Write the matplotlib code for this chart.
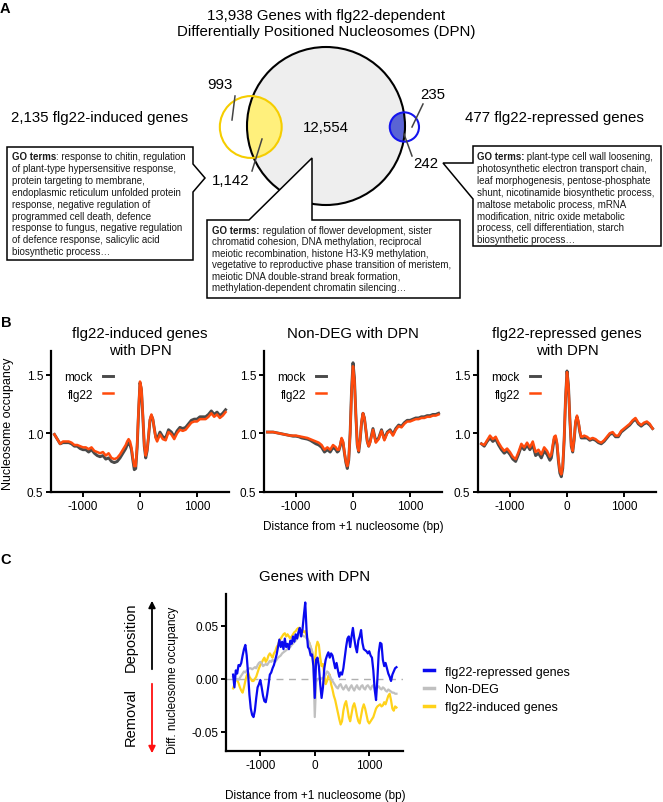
import numpy as np
import matplotlib
matplotlib.use('Agg')
import matplotlib.pyplot as plt
from matplotlib.patches import Circle, Polygon

plt.rcParams['font.family'] = ['Liberation Sans', 'DejaVu Sans']
plt.rcParams['axes.unicode_minus'] = False
NARROW = ['Liberation Sans Narrow', 'Liberation Sans', 'DejaVu Sans']

# ---------------- data ----------------
# Venn (panel A)
n_dpn = 13938
n_induced = 2135
n_repressed = 477
n_induced_only = 993
n_induced_dpn = 1142
n_dpn_only = 12554
n_repressed_only = 235
n_repressed_dpn = 242

# GO term boxes: (bold prefix, rest of first line), following lines
go_induced = [("GO terms", ": response to chitin, regulation"),
              "of plant-type hypersensitive response,",
              "protein targeting to membrane,",
              "endoplasmic reticulum unfolded protein",
              "response, negative regulation of",
              "programmed cell death, defence",
              "response to fungus, negative regulation",
              "of defence response, salicylic acid",
              "biosynthetic process…"]
go_dpn = [("GO terms:", " regulation of flower development, sister"),
          "chromatid cohesion, DNA methylation, reciprocal",
          "meiotic recombination, histone H3-K9 methylation,",
          "vegetative to reproductive phase transition of meristem,",
          "meiotic DNA double-strand break formation,",
          "methylation-dependent chromatin silencing…"]
go_repressed = [("GO terms:", " plant-type cell wall loosening,"),
                "photosynthetic electron transport chain,",
                "leaf morphogenesis, pentose-phosphate",
                "shunt, nicotinamide biosynthetic process,",
                "maltose metabolic process, mRNA",
                "modification, nitric oxide metabolic",
                "process, cell differentiation, starch",
                "biosynthetic process…"]

# Panel B: nucleosome occupancy profiles (bp from +1 nucleosome)
pos_b = np.concatenate([np.arange(-1500, -300, 50), np.arange(-300, 300, 25),
                        np.arange(300, 1501, 50)])
ind_flg22 = [0.99, 0.95, 0.91, 0.93, 0.93, 0.93, 0.92, 0.90, 0.90, 0.89, 0.88, 0.88,
             0.865, 0.88, 0.85, 0.84, 0.83, 0.84, 0.81, 0.83, 0.79, 0.78, 0.79, 0.82,
             0.86, 0.88, 0.90, 0.93, 0.95, 0.93, 0.88, 0.79, 0.72, 0.72, 0.90, 1.20,
             1.44, 1.38, 1.15, 0.90, 0.81, 0.86, 0.98, 1.12, 1.16, 1.12, 1.04, 0.96,
             0.93, 0.99, 0.95, 0.94, 1.01, 0.99, 0.95, 1.00, 1.03, 1.02, 1.03, 1.06, 1.09,
             1.10, 1.10, 1.12, 1.12, 1.12, 1.14, 1.17, 1.14, 1.16, 1.13, 1.15, 1.18]
ind_mock = [0.99, 0.95, 0.91, 0.92, 0.92, 0.92, 0.91, 0.89, 0.89, 0.87, 0.86, 0.86,
            0.84, 0.86, 0.83, 0.81, 0.80, 0.81, 0.78, 0.79, 0.76, 0.75, 0.76, 0.79,
            0.83, 0.85, 0.87, 0.90, 0.92, 0.90, 0.86, 0.77, 0.69, 0.70, 0.88, 1.18,
            1.43, 1.37, 1.14, 0.89, 0.79, 0.85, 0.97, 1.11, 1.15, 1.12, 1.04, 0.97,
            0.95, 1.01, 0.97, 0.96, 1.03, 1.01, 0.97, 1.02, 1.05, 1.04, 1.05, 1.08, 1.11,
            1.12, 1.12, 1.14, 1.14, 1.14, 1.16, 1.19, 1.16, 1.18, 1.15, 1.17, 1.20]
non_flg22 = [1.01, 1.01, 1.01, 1.005, 1.00, 0.995, 0.99, 0.985, 0.98, 0.98, 0.98, 0.975,
             0.97, 0.965, 0.96, 0.95, 0.94, 0.93, 0.92, 0.90, 0.86, 0.88, 0.86, 0.90,
             0.88, 0.86, 0.86, 0.90, 0.96, 0.93, 0.84, 0.76, 0.72, 0.78, 1.00, 1.35,
             1.57, 1.45, 1.15, 0.90, 0.85, 0.95, 1.10, 1.17, 1.13, 1.03, 0.93, 0.89,
             0.92, 1.03, 0.92, 0.95, 1.02, 0.94, 1.00, 1.02, 0.98, 1.03, 1.06, 1.05, 1.08,
             1.10, 1.10, 1.11, 1.12, 1.12, 1.13, 1.13, 1.14, 1.14, 1.15, 1.15, 1.16]
non_mock = [1.01, 1.01, 1.01, 1.005, 1.00, 0.995, 0.99, 0.985, 0.98, 0.975, 0.975, 0.97,
            0.96, 0.955, 0.95, 0.94, 0.925, 0.91, 0.90, 0.88, 0.84, 0.86, 0.84, 0.88,
            0.86, 0.84, 0.85, 0.89, 0.95, 0.92, 0.83, 0.75, 0.70, 0.77, 1.00, 1.37,
            1.60, 1.47, 1.16, 0.90, 0.84, 0.94, 1.09, 1.17, 1.13, 1.03, 0.93, 0.89,
            0.93, 1.04, 0.93, 0.96, 1.03, 0.95, 1.01, 1.03, 0.99, 1.04, 1.07, 1.06, 1.09,
            1.11, 1.11, 1.12, 1.13, 1.13, 1.14, 1.14, 1.15, 1.15, 1.16, 1.16, 1.17]
rep_flg22 = [0.91, 0.90, 0.94, 0.98, 0.95, 0.97, 0.92, 0.88, 0.85, 0.87, 0.84, 0.80,
             0.78, 0.84, 0.91, 0.88, 0.92, 0.88, 0.93, 0.84, 0.86, 0.82, 0.88, 0.85,
             0.80, 0.82, 0.90, 0.97, 0.98, 0.92, 0.78, 0.68, 0.65, 0.72, 0.95, 1.30,
             1.52, 1.40, 1.12, 0.90, 0.85, 0.95, 1.10, 1.15, 1.10, 1.02, 0.97, 0.97,
             0.98, 0.97, 0.95, 0.96, 0.95, 0.93, 0.92, 0.94, 0.97, 1.00, 1.01, 0.98, 0.98,
             1.02, 1.04, 1.06, 1.08, 1.11, 1.13, 1.09, 1.07, 1.09, 1.10, 1.08, 1.04]
rep_mock = [0.91, 0.89, 0.93, 0.96, 0.93, 0.95, 0.90, 0.86, 0.83, 0.85, 0.82, 0.78,
            0.76, 0.82, 0.89, 0.86, 0.90, 0.86, 0.90, 0.81, 0.83, 0.79, 0.85, 0.82,
            0.77, 0.79, 0.87, 0.95, 0.96, 0.90, 0.76, 0.66, 0.63, 0.70, 0.94, 1.30,
            1.53, 1.41, 1.12, 0.89, 0.84, 0.94, 1.09, 1.14, 1.09, 1.01, 0.96, 0.96,
            0.96, 0.96, 0.94, 0.95, 0.94, 0.92, 0.91, 0.93, 0.96, 0.99, 1.00, 0.97, 0.97,
            1.01, 1.03, 1.05, 1.07, 1.10, 1.12, 1.08, 1.06, 1.08, 1.09, 1.07, 1.04]
b_titles = ['flg22-induced genes\nwith DPN', 'Non-DEG with DPN',
            'flg22-repressed genes\nwith DPN']

# Panel C: differential occupancy (flg22 - mock)
pos_c = np.arange(-1500, 1501, 25)
diff_repressed = [0.004, -0.008, 0.008, 0.005, 0.013, 0.012, 0.015, 0.022, 0.028, 0.032, 0.022, 0.005,
                  -0.015, -0.028, -0.034, -0.036, -0.030, -0.018, -0.008, -0.005, -0.001, -0.008, -0.016, -0.021,
                  -0.022, -0.015, -0.006, 0.004, 0.006, 0.010, 0.013, 0.018, 0.023, 0.030, 0.037, 0.030,
                  0.035, 0.028, 0.038, 0.030, 0.033, 0.028, 0.036, 0.033, 0.040, 0.035, 0.042, 0.038,
                  0.044, 0.048, 0.040, 0.047, 0.060, 0.072, 0.045, 0.030, 0.028, 0.022, 0.023, 0.012,
                  -0.018, 0.018, 0.020, 0.012, -0.005, -0.018, -0.008, 0.010, 0.018, 0.022, 0.025, 0.020,
                  0.024, 0.022, 0.016, 0.010, 0.015, 0.008, 0.002, 0.006, 0.004, 0.010, 0.020, 0.030,
                  0.038, 0.040, 0.030, 0.040, 0.048, 0.038, 0.030, 0.025, 0.036, 0.040, 0.046, 0.034,
                  0.028, 0.027, 0.026, 0.024, 0.026, 0.022, 0.020, 0.008, -0.010, -0.020, 0.000, 0.025,
                  0.034, 0.033, 0.018, 0.012, 0.015, 0.010, 0.005, 0.002, -0.002, 0.004, 0.007, 0.010,
                  0.011]
diff_nondeg = [0.002, 0.000, -0.001, 0.000, -0.001, 0.001, 0.003, 0.005, 0.007, 0.006, 0.008, 0.009,
               0.010, 0.010, 0.009, 0.010, 0.011, 0.010, 0.013, 0.015, 0.016, 0.015, 0.012, 0.013,
               0.014, 0.013, 0.015, 0.017, 0.016, 0.018, 0.017, 0.016, 0.018, 0.020, 0.021, 0.022,
               0.024, 0.025, 0.026, 0.027, 0.028, 0.029, 0.030, 0.032, 0.033, 0.035, 0.036, 0.038,
               0.040, 0.043, 0.042, 0.041, 0.040, 0.040, 0.038, 0.037, 0.034, 0.030, 0.026, 0.015,
               -0.036, -0.003, 0.000, 0.000, 0.001, 0.000, 0.001, 0.002, 0.004, 0.007, 0.006, 0.003,
               0.000, -0.002, -0.004, -0.006, -0.008, -0.009, -0.006, -0.005, -0.008, -0.010, -0.008, -0.006,
               -0.009, -0.011, -0.008, -0.006, -0.009, -0.011, -0.008, -0.006, -0.009, -0.010, -0.007, -0.006,
               -0.009, -0.010, -0.007, -0.006, -0.008, -0.010, -0.007, -0.006, -0.009, -0.010, -0.008, -0.007,
               -0.009, -0.010, -0.008, -0.009, -0.011, -0.012, -0.010, -0.011, -0.012, -0.013, -0.013, -0.014,
               -0.014]
diff_induced = [-0.009, -0.005, 0.000, -0.001, -0.004, -0.008, -0.011, -0.013, -0.008, -0.002, 0.003, 0.006,
                0.002, 0.000, -0.002, -0.002, 0.000, 0.002, 0.006, 0.010, 0.013, 0.015, 0.018, 0.020,
                0.016, 0.018, 0.022, 0.024, 0.022, 0.020, 0.024, 0.026, 0.030, 0.032, 0.036, 0.038,
                0.040, 0.042, 0.043, 0.040, 0.042, 0.040, 0.038, 0.040, 0.042, 0.044, 0.045, 0.047,
                0.048, 0.048, 0.045, 0.046, 0.044, 0.045, 0.040, 0.036, 0.034, 0.030, 0.026, 0.020,
                0.010, 0.030, 0.035, 0.032, 0.020, 0.012, 0.014, 0.004, -0.005, -0.002, 0.003, 0.004,
                -0.005, -0.010, -0.016, -0.020, -0.026, -0.032, -0.038, -0.043, -0.040, -0.030, -0.024, -0.021,
                -0.028, -0.036, -0.040, -0.033, -0.026, -0.023, -0.028, -0.035, -0.040, -0.042, -0.035, -0.028,
                -0.024, -0.028, -0.034, -0.040, -0.042, -0.040, -0.038, -0.036, -0.032, -0.028, -0.026, -0.025,
                -0.024, -0.026, -0.025, -0.022, -0.024, -0.020, -0.016, -0.014, -0.020, -0.028, -0.030, -0.026,
                -0.027]

# colours
c_mock, c_flg22 = '#4a4a4a', '#ff4a0c'
c_rep, c_non, c_ind = '#0a0af0', '#c0c0c0', '#ffd21a'

# ---------------- figure ----------------
W, H = 663, 803
fig = plt.figure(figsize=(W / 100, H / 100), dpi=100)
renderer = fig.canvas.get_renderer()


def fx(px):
    return px / W


def fy(py):
    return 1 - py / H


# pixel-coordinate overlay for panel A and annotations
axP = fig.add_axes([0, 0, 1, 1])
axP.set_xlim(0, W)
axP.set_ylim(H, 0)
axP.axis('off')

for lab, x, y in [('A', 5, 9), ('B', 6, 323), ('C', 6, 560)]:
    axP.text(x, y, lab, fontsize=10.5, fontweight='bold', ha='center', va='center')

# ---- panel A : area-proportional Venn ----
def lens_area(d, R, r):
    a1 = r * r * np.arccos((d * d + r * r - R * R) / (2 * d * r))
    a2 = R * R * np.arccos((d * d + R * R - r * r) / (2 * d * R))
    a3 = 0.5 * np.sqrt((-d + r + R) * (d + r - R) * (d - r + R) * (d + r + R))
    return a1 + a2 - a3


def centre_dist(R, r, frac):
    lo, hi = R - r + 1e-6, R + r - 1e-6
    target = frac * np.pi * r * r
    for _ in range(60):
        mid = (lo + hi) / 2
        if lens_area(mid, R, r) > target:
            lo = mid
        else:
            hi = mid
    return mid


cx, cy, R = 326, 127, 79
r_ind = R * np.sqrt(n_induced / n_dpn)
r_rep = R * np.sqrt(n_repressed / n_dpn)
x_ind = cx - centre_dist(R, r_ind, n_induced_dpn / n_induced)
x_rep = cx + centre_dist(R, r_rep, n_repressed_dpn / n_repressed)

big_fill = Circle((cx, cy), R, fc='#eeeeee', ec='none', zorder=1)
axP.add_patch(big_fill)
for xc, r, col in [(x_ind, r_ind, '#fff07c'), (x_rep, r_rep, '#5a64d4')]:
    p = Circle((xc, cy + 1), r, fc=col, ec='none', zorder=2)
    axP.add_patch(p)
    p.set_clip_path(big_fill)
axP.add_patch(Circle((cx, cy), R, fc='none', ec='black', lw=1.5, zorder=3))
axP.add_patch(Circle((x_ind, cy + 1), r_ind, fc='none', ec='#f5cd00', lw=1.5, zorder=3))
axP.add_patch(Circle((x_rep, cy + 1), r_rep, fc='none', ec='#1414ee', lw=1.5, zorder=3))

# callout boxes
box_kw = dict(fc='white', ec='black', lw=1.1, zorder=5, joinstyle='miter')
axP.add_patch(Polygon([(207, 221), (249, 221), (312, 159), (312, 221), (460, 221),
                       (460, 299), (207, 299)], closed=True, **box_kw))
axP.add_patch(Polygon([(7, 148), (193, 148), (193, 165), (205, 179), (193, 193),
                       (193, 261), (7, 261)], closed=True, **box_kw))
axP.add_patch(Polygon([(473, 147), (661, 147), (661, 247), (473, 247), (473, 200),
                       (443, 164), (473, 164)], closed=True, **box_kw))


def go_text(x, y0, lines, gap=11.8, fs=7.0):
    kw = dict(fontsize=fs, va='baseline', ha='left', color='#1a1a1a', zorder=6)
    bold, rest = lines[0]
    tb = axP.text(x, y0, bold, fontweight='bold', **kw)
    w = tb.get_window_extent(renderer).width
    axP.text(x + w, y0, rest, **kw)
    for i, line in enumerate(lines[1:], start=1):
        axP.text(x, y0 + i * gap, line, **kw)


go_text(12, 160.5, go_induced)
go_text(212, 233.5, go_dpn, gap=11.6)
go_text(477, 160.5, go_repressed)

txt_kw = dict(fontsize=10.8, ha='center', va='center', zorder=6)
axP.text(326, 24, '13,938 Genes with flg22-dependent\nDifferentially Positioned Nucleosomes (DPN)',
         linespacing=1.15, **txt_kw)
axP.text(11, 118, '2,135 flg22-induced genes', fontsize=10.8, ha='left', va='center')
axP.text(465, 118, '477 flg22-repressed genes', fontsize=10.8, ha='left', va='center')
axP.text(220, 85, f'{n_induced_only:,}', **txt_kw)
axP.text(231, 181, f'{n_induced_dpn:,}', **txt_kw)
axP.text(326, 128, f'{n_dpn_only:,}', **txt_kw)
axP.text(433, 95, f'{n_repressed_only:,}', **txt_kw)
axP.text(426, 164, f'{n_repressed_dpn:,}', **txt_kw)
ln_kw = dict(color='#444444', lw=1.1, zorder=6)
axP.plot([235, 232], [97, 121], **ln_kw)
axP.plot([262, 252], [140, 172], **ln_kw)
axP.plot([423, 412], [105, 128], **ln_kw)
axP.plot([404, 412], [135, 157], **ln_kw)


def style(ax):
    for s in ['top', 'right']:
        ax.spines[s].set_visible(False)
    for s in ['left', 'bottom']:
        ax.spines[s].set_linewidth(1.6)
    ax.tick_params(width=1.4, length=3.5, labelsize=8.5, pad=2)
    ax.patch.set_alpha(0)


# ---- panel B ----
b_sets = [(ind_mock, ind_flg22), (non_mock, non_flg22), (rep_mock, rep_flg22)]
for left, title, (mock, flg) in zip([51, 264, 478], b_titles, b_sets):
    ax = fig.add_axes([fx(left), fy(493), 178 / W, 141 / H])
    ax.plot(pos_b, mock, color=c_mock, lw=2.1, label='mock')
    ax.plot(pos_b, flg, color=c_flg22, lw=1.8, label='flg22')
    ax.set_xlim(-1560, 1560)
    ax.set_ylim(0.5, 1.7)
    ax.set_xticks([-1000, 0, 1000])
    ax.set_yticks([0.5, 1.0, 1.5])
    style(ax)
    ax.legend(loc='upper left', bbox_to_anchor=(0.05, 0.89), frameon=False,
              markerfirst=False, handlelength=0.8, handletextpad=0.9,
              labelspacing=0.45, fontsize=8.5, borderaxespad=0)
    fig.text(fx(left + 89), fy(327), title, ha='center', va='top', fontsize=10.8,
             linespacing=1.25)

axP.text(8, 424, 'Nucleosome occupancy', rotation=90, ha='center', va='center',
         fontsize=9, family=NARROW)
axP.text(353, 527, 'Distance from +1 nucleosome (bp)', ha='center', va='center', fontsize=8.5)

# ---- panel C ----
axC = fig.add_axes([fx(226), fy(752), 177 / W, 157 / H])
axC.axhline(0, color='#b0b0b0', lw=1.0, dashes=(5, 4), zorder=1)
l_ind, = axC.plot(pos_c, diff_induced, color=c_ind, lw=1.6, label='flg22-induced genes')
l_non, = axC.plot(pos_c, diff_nondeg, color=c_non, lw=1.6, label='Non-DEG')
l_rep, = axC.plot(pos_c, diff_repressed, color=c_rep, lw=1.6, label='flg22-repressed genes')
axC.set_xlim(-1630, 1620)
axC.set_ylim(-0.068, 0.080)
axC.set_xticks([-1000, 0, 1000])
yt = [-0.05, 0.0, 0.05]
axC.set_yticks(yt)
axC.set_yticklabels([f'{v:.2f}' for v in yt])
style(axC)
legC = axC.legend(handles=[l_rep, l_non, l_ind], loc='upper left', bbox_to_anchor=(1.09, 0.575),
                  frameon=False, handlelength=0.8, handletextpad=0.9, labelspacing=0.45,
                  fontsize=9, borderaxespad=0)
for h in legC.get_lines():
    h.set_linewidth(2.5)
axC.set_title('Genes with DPN', fontsize=10.8, pad=10)

axP.text(315, 796, 'Distance from +1 nucleosome (bp)', ha='center', va='center', fontsize=8.5)
axP.text(173, 680, 'Diff. nucleosome occupancy', rotation=90, ha='center', va='center',
         fontsize=8.5, family=NARROW)
axP.annotate('', xy=(152, 599), xytext=(152, 673),
             arrowprops=dict(arrowstyle='-|>', color='black', lw=1.3, mutation_scale=10))
axP.annotate('', xy=(152, 757), xytext=(152, 682),
             arrowprops=dict(arrowstyle='-|>', color='#ff1010', lw=1.3, mutation_scale=10))
axP.text(131, 637, 'Deposition', rotation=90, ha='center', va='center', fontsize=10.5, family=NARROW)
axP.text(131, 717, 'Removal', rotation=90, ha='center', va='center', fontsize=10.5, family=NARROW)

fig.savefig('out.png', dpi=100)
